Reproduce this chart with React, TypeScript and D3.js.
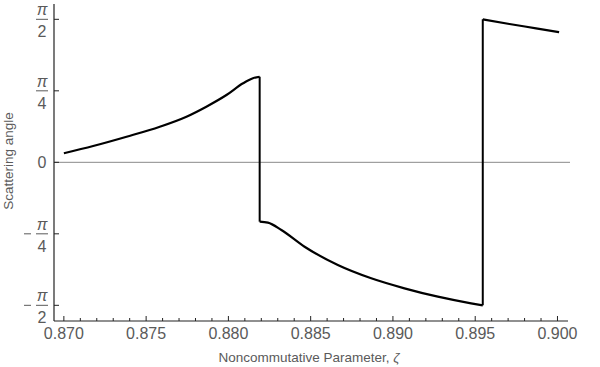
import React from "react";
import * as d3 from "d3";

// scattering angle vs noncommutative parameter, three branches
const zeta1 = [0.87, 0.87178, 0.87381, 0.87583, 0.87745, 0.87866, 0.87988, 0.88089, 0.88149, 0.8819];
const angle1 = [0.099, 0.179, 0.281, 0.391, 0.501, 0.611, 0.739, 0.868, 0.923, 0.94];

const zeta2 = [0.8819, 0.8824, 0.88322, 0.88463, 0.88665, 0.88868, 0.8907, 0.89273, 0.89475, 0.89546];
const angle2 = [-0.652, -0.663, -0.744, -0.927, -1.128, -1.274, -1.384, -1.476, -1.549, -1.571];

const zeta3 = [0.89546, 0.89708, 0.8987, 0.9001];
const angle3 = [1.571, 1.519, 1.472, 1.43];

const xTicks = [0.87, 0.875, 0.88, 0.885, 0.89, 0.895, 0.9];
const yTicks = [
  { v: Math.PI / 2, num: "π", den: "2", neg: false },
  { v: Math.PI / 4, num: "π", den: "4", neg: false },
  { v: 0, num: "", den: "0", neg: false },
  { v: -Math.PI / 4, num: "π", den: "4", neg: true },
  { v: -Math.PI / 2, num: "π", den: "2", neg: true },
];

const W = 600;
const H = 367;
const textColor = "#5a5a5a";
const font = "Liberation Sans, Arial, sans-serif";

const App = () => {
  const x = d3.scaleLinear().domain([0.8694, 0.90064]).range([54, 568]);
  const y = d3.scaleLinear().domain([-1.743, 1.739]).range([321, 4]);

  const line = d3
    .line<[number, number]>()
    .x((d) => x(d[0]))
    .y((d) => y(d[1]))
    .curve(d3.curveMonotoneX);

  const branches = [
    zeta1.map((z, i) => [z, angle1[i]] as [number, number]),
    zeta2.map((z, i) => [z, angle2[i]] as [number, number]),
    zeta3.map((z, i) => [z, angle3[i]] as [number, number]),
  ];

  // vertical jumps between branches
  const jumps = branches.slice(1).map((b, i) => {
    const prev = branches[i];
    return [prev[prev.length - 1], b[0]];
  });

  const minorTicks = d3.range(0.87, 0.9005, 0.001);

  return (
    <svg
      width={W}
      height={H}
      style={{ position: "fixed", left: 0, top: 0, background: "#fff" }}
    >
      {/* zero line */}
      <line x1={54} x2={570} y1={y(0)} y2={y(0)} stroke="#8a8a8a" strokeWidth={1} />

      {/* axes */}
      <line x1={54} x2={54} y1={4} y2={321} stroke="#222" strokeWidth={1.2} />
      <line x1={54} x2={568} y1={321} y2={321} stroke="#222" strokeWidth={1.2} />

      {minorTicks.map((t, i) => (
        <line
          key={"m" + i}
          x1={x(t)}
          x2={x(t)}
          y1={321}
          y2={i % 5 === 0 ? 316 : 318}
          stroke="#222"
          strokeWidth={1}
        />
      ))}

      {xTicks.map((t) => (
        <text
          key={t}
          x={x(t)}
          y={339}
          textAnchor="middle"
          fontSize={16}
          fontFamily={font}
          fill={textColor}
        >
          {d3.format(".3f")(t)}
        </text>
      ))}

      {yTicks.map((t, i) => {
        const ty = y(t.v);
        return (
          <g key={i}>
            <line x1={54} x2={59} y1={ty} y2={ty} stroke="#222" strokeWidth={1} />
            {t.num === "" ? (
              <text x={42} y={ty + 6} textAnchor="middle" fontSize={16} fontFamily={font} fill={textColor}>
                {t.den}
              </text>
            ) : (
              <g>
                <text
                  x={42}
                  y={ty - 4}
                  textAnchor="middle"
                  fontSize={16}
                  fontStyle="italic"
                  fontFamily={font}
                  fill={textColor}
                >
                  {t.num}
                </text>
                <line x1={36} x2={48} y1={ty} y2={ty} stroke={textColor} strokeWidth={1} />
                <text x={42} y={ty + 18} textAnchor="middle" fontSize={16} fontFamily={font} fill={textColor}>
                  {t.den}
                </text>
                {t.neg && (
                  <line x1={24} x2={31} y1={ty} y2={ty} stroke={textColor} strokeWidth={1} />
                )}
              </g>
            )}
          </g>
        );
      })}

      {/* curve */}
      {branches.map((b, i) => (
        <path key={"b" + i} d={line(b) || ""} fill="none" stroke="#000" strokeWidth={2.2} />
      ))}
      {jumps.map((j, i) => (
        <line
          key={"j" + i}
          x1={x(j[0][0])}
          x2={x(j[1][0])}
          y1={y(j[0][1])}
          y2={y(j[1][1])}
          stroke="#000"
          strokeWidth={2}
        />
      ))}

      <text
        x={309}
        y={362}
        textAnchor="middle"
        fontSize={13.5}
        fontFamily={font}
        fill={textColor}
      >
        Noncommutative Parameter, <tspan fontStyle="italic">ζ</tspan>
      </text>
      <text
        transform="translate(13,161) rotate(-90)"
        textAnchor="middle"
        fontSize={13.5}
        fontFamily={font}
        fill={textColor}
      >
        Scattering angle
      </text>
    </svg>
  );
};

export default App;
